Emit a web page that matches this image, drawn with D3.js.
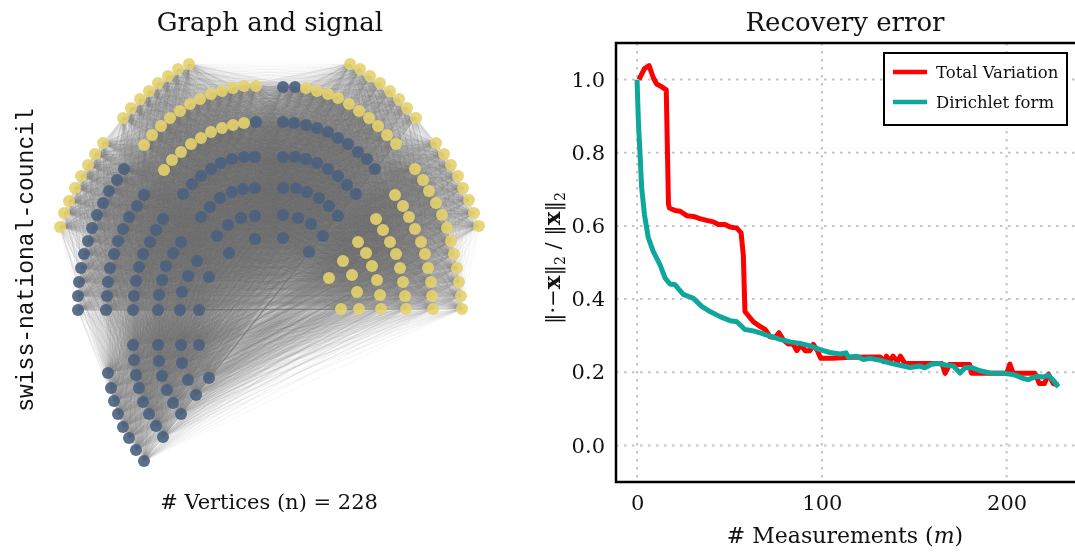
<!DOCTYPE html>
<html>
<head>
<meta charset="utf-8">
<script src="https://cdn.jsdelivr.net/npm/d3@7"></script>
<style>
  body { margin: 0; background: #fff; }
  #wrap { position: relative; width: 1075px; height: 554px; overflow: hidden; }
  #edges, #chart { position: absolute; left: 0; top: 0; }
  text { font-family: "DejaVu Serif", serif; fill: #111; }
</style>
</head>
<body>
<div id="wrap">
  <canvas id="edges" width="540" height="554"></canvas>
  <svg id="chart" width="1075" height="554"></svg>
</div>
<script>
// node positions (layout units), signal = 1
const yellowNodes = [
  [60,227],[64,213],[69,201],[75,188],[81,176],[88,165],[95,154],[103,143],[123,118],[131,108],[140,99],[149,91],[158,83],[168,76],[178,69],[189,64],
  [144,145],[152,135],[161,126],[170,118],[180,111],[190,104],[200,99],[211,94],[222,91],[233,88],[244,86],[256,86],
  [164,170],[172,160],[181,152],[191,144],[201,138],[211,132],[222,128],[233,125],[244,123],
  [306,88],[317,91],[328,94],[338,98],[349,104],[359,111],[369,118],[378,126],[387,135],[396,144],
  [350,64],[360,69],[370,76],[380,83],[390,91],[399,99],[407,108],[416,118],[436,143],[444,154],[451,165],[458,176],[463,188],[469,200],[474,213],[479,226],
  [415,169],[423,180],[429,191],[436,203],[442,215],[447,228],[451,241],[454,254],[457,268],[459,282],[461,296],[462,309],
  [395,195],[403,206],[409,217],[415,229],[421,242],[425,254],[428,268],[431,282],[432,296],[433,309],
  [376,219],[383,230],[390,242],[396,254],[400,268],[403,282],[405,296],[406,309],
  [358,242],[366,253],[372,266],[377,280],[380,295],[381,309],
  [343,261],[352,275],[357,292],[359,309],
  [329,278],[341,309]
];
// signal = 0
const blueNodes = [
  [256,122],[283,87],[295,87],
  [283,122],[294,123],[306,125],[317,128],[328,132],[338,138],[348,144],[358,152],[367,159],[375,169],
  [283,157],[295,157],[306,159],[317,163],[328,169],[338,176],[347,185],[356,194],
  [283,188],[296,188],[307,192],[319,198],[329,206],[338,216],
  [283,215],[298,218],[311,224],[323,236],
  [283,238],[309,252],
  [183,194],[192,184],[201,176],[211,169],[221,163],[232,159],[244,157],[255,157],
  [201,217],[210,207],[220,198],[232,192],[243,189],[255,188],
  [217,236],[228,225],[241,218],[255,216],
  [229,253],[255,239],
  [124,169],[117,180],[109,191],[103,203],[97,215],[92,228],[88,241],[84,254],[81,268],[79,282],[78,296],[78,310],
  [144,195],[137,206],[129,217],[123,229],[118,241],[114,254],[110,268],[108,282],[107,296],[106,310],
  [163,219],[156,230],[150,242],[143,254],[139,267],[136,281],[134,296],[133,310],
  [181,242],[173,253],[166,266],[162,280],[159,295],[158,310],
  [197,261],[188,276],[182,292],[180,310],
  [209,277],[199,310],
  [133,345],[158,345],[181,345],[199,345],[134,360],[159,361],[182,363],
  [108,373],[136,375],[162,376],[188,380],[209,378],
  [111,388],[139,388],[167,390],[196,395],
  [114,401],[143,402],[173,403],[118,414],[149,414],[181,414],
  [123,427],[156,426],[129,438],[163,437],[136,450],[144,461]
];

// recovery error curves
const tvM = [1,4,6.5,8.8,10.6,13.4,15.8,17,17.5,20.6,23.3,26.9,30.5,34,37.7,41.3,44,47.6,50.3,54,56.3,57.5,58.4,62.9,66.6,69.3,72,74.7,76.8,79.2,81.9,84.3,86.4,88.6,91,93.6,95.4,97.6,99.4,106,115,131.5,133.5,135,136.5,138.5,141,142.5,145,165,166.7,169,180,181,200,201.8,203.5,215.4,217.7,220.5,222.6,225.3,228];
const tvErr = [1.0,1.03,1.038,1.005,0.988,0.98,0.972,0.66,0.649,0.642,0.640,0.628,0.626,0.620,0.615,0.611,0.604,0.604,0.597,0.594,0.581,0.52,0.366,0.338,0.325,0.317,0.297,0.295,0.308,0.288,0.277,0.279,0.259,0.274,0.259,0.259,0.276,0.259,0.238,0.238,0.241,0.242,0.229,0.244,0.229,0.244,0.229,0.244,0.224,0.224,0.197,0.221,0.221,0.197,0.197,0.222,0.197,0.197,0.169,0.169,0.195,0.169,0.165];
const dirM = [0,0.7,1.6,2.5,4,6.1,8.8,12.4,15.2,17.9,20.6,25,30.5,35,39.5,44.9,50.3,54,58.4,62.9,67.5,72,77.4,82.8,88.2,93.6,99,104.4,109.8,113.1,114.3,118.9,122.5,126.1,131.5,136.9,142.3,147.7,153.1,155.8,159.4,163,167.6,171.2,174.8,177.5,181.1,185.6,191,198.2,203.6,209,211.7,216.3,219.8,222.6,225.3,228];
const dirErr = [1.0,0.887,0.796,0.704,0.631,0.567,0.530,0.494,0.457,0.441,0.439,0.413,0.402,0.380,0.366,0.352,0.341,0.338,0.317,0.313,0.306,0.299,0.290,0.283,0.279,0.272,0.262,0.254,0.250,0.253,0.241,0.244,0.235,0.238,0.233,0.225,0.219,0.213,0.217,0.212,0.222,0.224,0.219,0.217,0.198,0.212,0.213,0.204,0.198,0.197,0.194,0.183,0.180,0.189,0.187,0.192,0.178,0.160];

const xTicks = [0, 100, 200];
const yTicks = [0, 0.2, 0.4, 0.6, 0.8, 1.0];
const seriesNames = ["Total Variation", "Dirichlet form"];
const seriesColors = ["#ff0000", "#0fa79b"];

const svg = d3.select("#chart");

// ---------- left panel: graph ----------
const nodes = blueNodes.map(p => ({x: p[0], y: p[1], s: 0}))
  .concat(yellowNodes.map(p => ({x: p[0], y: p[1], s: 1})));

const gx = d3.scaleLinear().domain(d3.extent(nodes, d => d.x)).range([60, 479]);
const gy = d3.scaleLinear().domain(d3.extent(nodes, d => d.y)).range([64, 461]);
const signalColor = d3.scaleOrdinal().domain([0, 1]).range(["#4a6080", "#e4d26e"]);

// every pair of vertices gets a faint edge
const ctx = document.getElementById("edges").getContext("2d");
ctx.strokeStyle = "rgba(110,110,110,0.05)";
ctx.lineWidth = 1;
for (let i = 0; i < nodes.length; i++) {
  for (let j = i + 1; j < nodes.length; j++) {
    ctx.beginPath();
    ctx.moveTo(gx(nodes[i].x), gy(nodes[i].y));
    ctx.lineTo(gx(nodes[j].x), gy(nodes[j].y));
    ctx.stroke();
  }
}

svg.append("g")
  .selectAll("circle")
  .data(nodes)
  .enter()
  .append("circle")
  .attr("cx", d => gx(d.x))
  .attr("cy", d => gy(d.y))
  .attr("r", 6)
  .attr("fill", d => signalColor(d.s))
  .attr("fill-opacity", 0.9)

svg.append("text")
  .attr("x", 270).attr("y", 31)
  .attr("text-anchor", "middle")
  .style("font-size", "26px")
  .text("Graph and signal")

svg.append("text")
  .attr("x", 269).attr("y", 509)
  .attr("text-anchor", "middle")
  .style("font-size", "21px")
  .text(`# Vertices (n) = ${nodes.length}`)

svg.append("text")
  .attr("transform", "translate(33,260) rotate(-90)")
  .attr("text-anchor", "middle")
  .style("font-family", "'Liberation Mono', monospace")
  .style("font-size", "23px")
  .text("swiss-national-council")

// ---------- right panel: recovery error ----------
const pLeft = 616, pRight = 1088, pTop = 43, pBottom = 482;

const xScale = d3.scaleLinear().domain([-11.4, 240.8]).range([pLeft, pLeft + 466]);
const yScale = d3.scaleLinear().domain([-0.1, 1.1]).range([pBottom, pTop]);

svg.append("defs").append("clipPath").attr("id", "plot-clip")
  .append("rect")
  .attr("x", pLeft).attr("y", pTop)
  .attr("width", pRight - pLeft).attr("height", pBottom - pTop)

const grid = svg.append("g")
  .attr("stroke", "#c4c4c4")
  .attr("stroke-width", 2)
  .attr("stroke-dasharray", "2.5,5.5")

grid.selectAll("line.gx")
  .data(xTicks)
  .enter()
  .append("line")
  .attr("x1", d => xScale(d)).attr("x2", d => xScale(d))
  .attr("y1", pTop).attr("y2", pBottom)

grid.selectAll("line.gy")
  .data(yTicks)
  .enter()
  .append("line")
  .attr("y1", d => yScale(d)).attr("y2", d => yScale(d))
  .attr("x1", pLeft).attr("x2", pRight)

const xAxis = d3.axisBottom(xScale).tickValues(xTicks).tickSize(0).tickPadding(13).tickFormat(d3.format("d"));
svg.append("g")
  .attr("id", "x-axis")
  .attr("transform", `translate(0, ${pBottom})`)
  .call(xAxis)
  .call(g => g.select(".domain").remove())
  .selectAll("text")
  .style("font-family", "'DejaVu Serif', serif")
  .style("font-size", "21px")
  .attr("fill", "#111")

const yAxis = d3.axisLeft(yScale).tickValues(yTicks).tickSize(0).tickPadding(11).tickFormat(d3.format(".1f"));
svg.append("g")
  .attr("id", "y-axis")
  .attr("transform", `translate(${pLeft}, 0)`)
  .call(yAxis)
  .call(g => g.select(".domain").remove())
  .selectAll("text")
  .style("font-family", "'DejaVu Serif', serif")
  .style("font-size", "21px")
  .attr("fill", "#111")

const line = d3.line().x(d => xScale(d[0])).y(d => yScale(d[1]));
const series = [d3.zip(tvM, tvErr), d3.zip(dirM, dirErr)];

svg.append("g")
  .attr("clip-path", "url(#plot-clip)")
  .selectAll("path")
  .data(series)
  .enter()
  .append("path")
  .attr("d", line)
  .attr("fill", "none")
  .attr("stroke", (d, i) => seriesColors[i])
  .attr("stroke-width", 5)
  .attr("stroke-linejoin", "round")

svg.append("rect")
  .attr("x", pLeft).attr("y", pTop)
  .attr("width", pRight - pLeft).attr("height", pBottom - pTop)
  .attr("fill", "none")
  .attr("stroke", "#000")
  .attr("stroke-width", 2.5)

svg.append("text")
  .attr("x", 845).attr("y", 31)
  .attr("text-anchor", "middle")
  .style("font-size", "26px")
  .text("Recovery error")

const xLabel = svg.append("text")
  .attr("x", 845).attr("y", 543)
  .attr("text-anchor", "middle")
  .style("font-size", "22px")
xLabel.append("tspan").text("# Measurements (")
xLabel.append("tspan").style("font-style", "italic").text("m")
xLabel.append("tspan").text(")")

const yLabel = svg.append("text")
  .attr("transform", "translate(560,258) rotate(-90)")
  .attr("text-anchor", "middle")
  .style("font-size", "21px")
yLabel.append("tspan").text("\u2016\u00b7\u2212")
yLabel.append("tspan").style("font-weight", "bold").style("font-size", "23px").text("x")
yLabel.append("tspan").text("\u2016")
yLabel.append("tspan").attr("dy", 5).style("font-size", "14px").text("2")
yLabel.append("tspan").attr("dy", -5).text("\u00a0/\u00a0\u2016")
yLabel.append("tspan").style("font-weight", "bold").style("font-size", "23px").text("x")
yLabel.append("tspan").text("\u2016")
yLabel.append("tspan").attr("dy", 5).style("font-size", "14px").text("2")

// legend
const legend = svg.append("g")
legend.append("rect")
  .attr("x", 884).attr("y", 53)
  .attr("width", 183).attr("height", 72)
  .attr("fill", "#fff")
  .attr("stroke", "#000")
  .attr("stroke-width", 2)

const items = legend.selectAll("g.item")
  .data(seriesNames)
  .enter()
  .append("g")
  .attr("transform", (d, i) => `translate(0, ${72 + i * 30})`)

items.append("line")
  .attr("x1", 893).attr("x2", 927)
  .attr("stroke", (d, i) => seriesColors[i])
  .attr("stroke-width", 4.5)

items.append("text")
  .attr("x", 936).attr("y", 6)
  .style("font-size", "16.5px")
  .text(d => d)
</script>
</body>
</html>
